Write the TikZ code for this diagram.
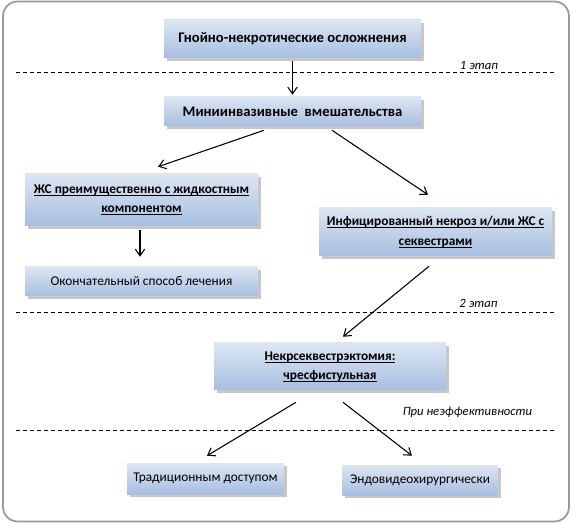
\documentclass[tikz,border=0pt]{standalone}
\usepackage{fontspec}
\setmainfont{Carlito}
\usetikzlibrary{positioning}
\usetikzlibrary{arrows.meta}
\usetikzlibrary{shadows}
\definecolor{boxtop}{HTML}{DCE6F2}
\definecolor{boxbot}{HTML}{A7BEE0}
\newcommand\ulline[1]{\setbox0\hbox{#1}\rlap{\rule[-1.7pt]{\wd0}{0.55pt}}\box0}
\tikzset{
    mybox/.style = {rectangle, draw=none, align=center, top color=boxtop, bottom color=boxbot, text=black,
                    drop shadow={shadow xshift=2.2pt, shadow yshift=-2.2pt, fill=gray!55, opacity=0.8}},
    myboxb/.style = {mybox, font=\fontsize{10}{14.5}\selectfont\bfseries},
    myboxr/.style = {mybox, font=\fontsize{10}{12}\selectfont},
    edgen/.style = {-{Straight Barb[length=5pt,width=7pt]},line width=0.8pt,black},
    stage/.style = {dash pattern=on 3pt off 2.2pt,line width=0.6pt,black},
    note/.style = {font=\fontsize{9.5}{11}\selectfont\itshape,text=black!90!blue,inner sep=0pt}
}
\begin{document}
\begin{tikzpicture}[x=0.75pt,y=-0.75pt]
\useasboundingbox (0,0) rectangle (572,524);
\draw[gray!80,line width=1.3pt,rounded corners=11pt] (3,1.5) rectangle (569,521.5);
%
\node[myboxb, minimum width=257*0.75pt, minimum height=38*0.75pt, font=\fontsize{11}{13}\selectfont\bfseries] at (292.5, 39) (gno) {Гнойно-некротические осложнения};
\node[myboxb, minimum width=257*0.75pt, minimum height=29*0.75pt, font=\fontsize{11}{13}\selectfont\bfseries] at (292.5,111.5) (mini) {Миниинвазивные\ \ вмешательства};
\node[myboxb, minimum width=233*0.75pt, minimum height=52*0.75pt] at (141.5,200) (zhs) {\ulline{ЖС преимущественно с жидкостным}\\\ulline{компонентом}};
\node[myboxr, minimum width=233*0.75pt, minimum height=29*0.75pt] at (141.5,281.5) (okon) {Окончательный способ лечения};
\node[myboxb, minimum width=233*0.75pt, minimum height=48*0.75pt] at (435.5,232) (inf) {\ulline{Инфицированный некроз и/или ЖС с}\\\ulline{секвестрами}};
\node[myboxb, minimum width=232*0.75pt, minimum height=47*0.75pt] at (330,366.5) (nekr) {\ulline{Некрсеквестрэктомия:}\\\ulline{чресфистульная}};
\node[myboxr, minimum width=157*0.75pt, minimum height=31*0.75pt] at (205.5,478.5) (trad) {Традиционным доступом};
\node[myboxr, minimum width=156*0.75pt, minimum height=30*0.75pt] at (420,480) (endo) {Эндовидеохирургически};
%
\draw[stage] (16, 72) -- (555, 72);
\draw[stage] (16,312) -- (555,312);
\draw[stage] (16,430) -- (555,430);
\node[note] at (479, 65) (st1) {1 этап};
\node[note] at (478.5,303) (st2) {2 этап};
\node[note] at (467.5,412) (neff) {При неэффективности};
%
\draw[edgen] ([yshift=-3*0.75pt]gno.south) -- ([yshift=2*0.75pt]mini.north);
\draw[edgen] ([xshift=-28.5*0.75pt,yshift=-4*0.75pt]mini.south) -- ([xshift=16.5*0.75pt,yshift=7*0.75pt]zhs.north);
\draw[edgen] ([xshift=39.5*0.75pt,yshift=-4*0.75pt]mini.south) -- ([xshift=-7.5*0.75pt,yshift=13*0.75pt]inf.north);
\draw[edgen] ([xshift=-1.5*0.75pt,yshift=-4*0.75pt]zhs.south) -- ([xshift=-1.5*0.75pt,yshift=10*0.75pt]okon.north);
\draw[edgen] ([xshift=-6.5*0.75pt,yshift=-10*0.75pt]inf.south) -- ([xshift=13*0.75pt,yshift=6*0.75pt]nekr.north);
\draw[edgen] ([xshift=-34*0.75pt,yshift=-12*0.75pt]nekr.south) -- ([xshift=1.5*0.75pt,yshift=7*0.75pt]trad.north);
\draw[edgen] ([xshift=13*0.75pt,yshift=-12*0.75pt]nekr.south) -- ([xshift=-8*0.75pt,yshift=9*0.75pt]endo.north);
\end{tikzpicture}
\end{document}
